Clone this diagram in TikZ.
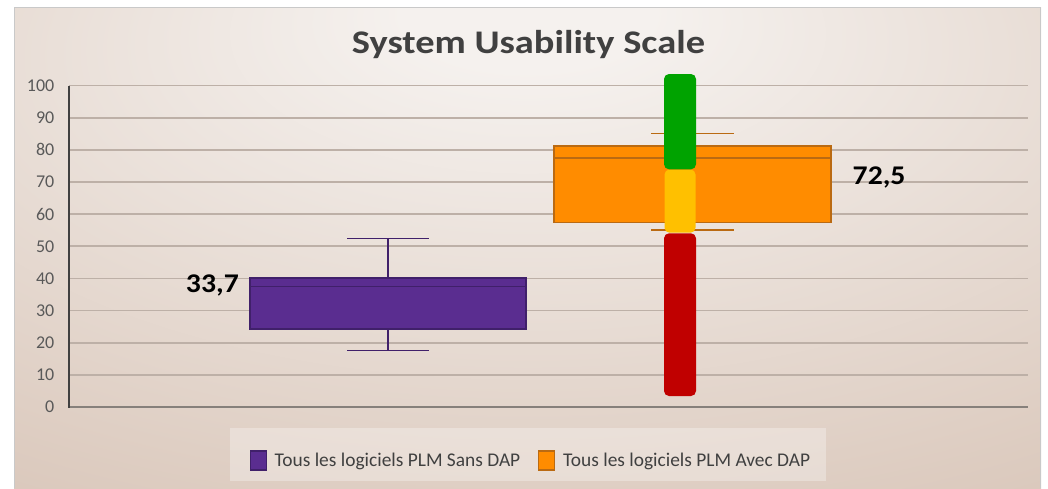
\documentclass[tikz,border=0pt]{standalone}
\usepackage{fontspec}
\setmainfont{Carlito}
\definecolor{bglight}{HTML}{F5F1EE}
\definecolor{bgmid}{HTML}{DFCFC4}
\definecolor{bgdark}{HTML}{CCB4A4}
\definecolor{framec}{HTML}{C9C9C9}
\definecolor{gridc}{HTML}{BDB0A7}
\definecolor{axisc}{HTML}{86807B}
\definecolor{yaxisc}{HTML}{404040}
\definecolor{labelc}{HTML}{595959}
\definecolor{titlec}{HTML}{404040}
\definecolor{purplefill}{HTML}{5A2D90}
\definecolor{purpleline}{HTML}{40206A}
\definecolor{orangefill}{HTML}{FF8C00}
\definecolor{orangeline}{HTML}{BA6A12}
\definecolor{sgreen}{HTML}{00A300}
\definecolor{syellow}{HTML}{FFC000}
\definecolor{sred}{HTML}{C00000}
\pgfdeclareradialshading{bgshade}{\pgfpoint{0bp}{26bp}}{%
  color(0bp)=(bglight); color(6bp)=(bglight); color(40bp)=(bgmid); color(68bp)=(bgdark); color(100bp)=(bgdark)}
\tikzset{
  gridline/.style={draw=gridc, line width=1.8pt},
  ticklabel/.style={anchor=east, text=labelc, font=\fontsize{18}{20}\selectfont, inner sep=0pt},
  boxplot/.style={line width=1.6pt},
  whisker/.style={line width=1.4pt},
  valuelabel/.style={font=\fontsize{27}{29}\selectfont\bfseries, text=black, inner sep=0pt},
  legendtext/.style={anchor=base west, font=\fontsize{19.4}{21}\selectfont, text=titlec, inner sep=0pt},
  scaleseg/.style={rounded corners=5pt}
}
\begin{document}
\begin{tikzpicture}[x=1pt,y=-1pt]
\useasboundingbox (0,0) rectangle (1048,488);
\fill[white] (0,0) rectangle (1048,488);
% chart area background
\shade[shading=bgshade] (14,7) rectangle (1041,488);
\draw[framec, line width=1pt] (14.5,488) -- (14.5,7.5) -- (1040.5,7.5) -- (1040.5,488);

% title
\node[anchor=base, font=\fontsize{33}{35}\selectfont\bfseries, text=titlec, inner sep=0pt]
  (title) at (528.4,53.3) {\scalebox{1.165}[1]{System Usability Scale}};

% horizontal gridlines and tick labels (value v sits at y = 407 - 3.215 v)
\foreach \v in {10,20,...,100}{
  \draw[gridline] (69,{407-3.215*\v}) -- (1028,{407-3.215*\v});
}
\foreach \v in {0,10,...,100}{
  \node[ticklabel] (tick\v) at (54.5,{407-3.215*\v}) {\v};
}
\draw[axisc, line width=2pt] (69,407) -- (1028,407);
\draw[yaxisc, line width=2.6pt] (69,85.5) -- (69,408);

% box plot: Sans DAP
\draw[purpleline, whisker] (388,277.7) -- (388,238.3);
\draw[purpleline, whisker] (347,238.3) -- (429,238.3);
\draw[purpleline, whisker] (388,329) -- (388,350.7);
\draw[purpleline, whisker] (347,350.7) -- (429,350.7);
\draw[boxplot, draw=purpleline, fill=purplefill] (250,277.7) rectangle (526,329);
\draw[boxplot, purpleline] (250,286.3) -- (526,286.3);

% box plot: Avec DAP
\draw[orangeline, whisker] (692.5,145.7) -- (692.5,133.3);
\draw[orangeline, whisker] (651,133.3) -- (734,133.3);
\draw[orangeline, whisker] (692.5,222.3) -- (692.5,230);
\draw[orangeline, whisker] (651,230) -- (734,230);
\draw[boxplot, draw=orangeline, fill=orangefill] (554,145.7) rectangle (831,222.3);
\draw[orangeline, line width=2pt] (554,158) -- (831,158);

% SUS grade scale
\fill[sred, scaleseg] (664,233.3) rectangle (696,396);
\fill[syellow, scaleseg] (664.5,169.5) rectangle (695.5,232.7);
\fill[sgreen, scaleseg] (664,74) rectangle (696,169.3);

% mean labels
\node[valuelabel, anchor=base east] (meansans) at (239,292.6) {\scalebox{1.1}[1]{33,7}};
\node[valuelabel, anchor=base west] (meanavec) at (852.5,184) {\scalebox{1.1}[1]{72,5}};

% legend
\fill[white, opacity=0.3] (230,428) rectangle (826,481);
\draw[purpleline, line width=1.2pt, fill=purplefill] (250.2,451) rectangle (266.2,470);
\node[legendtext] (legsans) at (274.5,466.6) {Tous les logiciels PLM Sans DAP};
\draw[orangeline, line width=1.2pt, fill=orangefill] (538.6,451) rectangle (554.6,470);
\node[legendtext] (legavec) at (563,466.6) {Tous les logiciels PLM Avec DAP};
\end{tikzpicture}
\end{document}
